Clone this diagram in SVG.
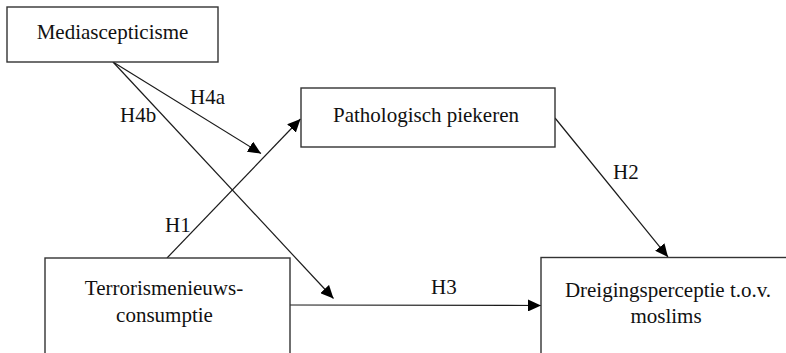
<svg xmlns="http://www.w3.org/2000/svg" width="786" height="353" viewBox="0 0 786 353">
<style>
.box{fill:#fff;stroke:#333;stroke-width:1.4}
.t{font-family:'Liberation Serif',serif;font-size:21px;fill:#111}
.c{text-anchor:middle}
.edge{stroke:#1a1a1a;stroke-width:1.2;fill:none;marker-end:url(#ah)}
</style>
<defs>
<marker id="ah" markerUnits="userSpaceOnUse" markerWidth="14" markerHeight="12" refX="13" refY="6" orient="auto">
<path d="M0,0 L13,6 L0,12 Z" fill="#000"/>
</marker>
</defs>
<rect width="786" height="353" fill="#fff"/>
<g id="connectors">
<line class="edge" x1="167" y1="258" x2="300.5" y2="119"/>
<line class="edge" x1="113" y1="62" x2="261" y2="153.5"/>
<line class="edge" x1="113" y1="62" x2="333.5" y2="298.5"/>
<line class="edge" x1="555" y1="118" x2="668" y2="257"/>
<line class="edge" x1="290" y1="305" x2="541" y2="305.5"/>
</g>
<g id="labels">
<text class="t" x="190" y="104">H4a</text>
<text class="t" x="120" y="122">H4b</text>
<text class="t" x="165" y="232">H1</text>
<text class="t" x="613" y="179">H2</text>
<text class="t" x="431" y="294">H3</text>
</g>
<g id="node-mediascepticisme">
<rect class="box" x="7" y="7" width="211" height="55"/>
<text class="t c" x="112.5" y="39">Mediascepticisme</text>
</g>
<g id="node-pathologisch">
<rect class="box" x="301" y="88" width="254" height="59"/>
<text class="t c" x="426" y="122">Pathologisch piekeren</text>
</g>
<g id="node-terrorisme">
<rect class="box" x="45" y="258" width="245" height="110"/>
<text class="t c" x="164" y="295">Terrorismenieuws-</text>
<text class="t c" x="164.5" y="322">consumptie</text>
</g>
<g id="node-dreiging">
<rect class="box" x="541" y="257.5" width="260" height="110"/>
<text class="t c" x="668" y="297">Dreigingsperceptie t.o.v.</text>
<text class="t c" x="666" y="323">moslims</text>
</g>
</svg>
